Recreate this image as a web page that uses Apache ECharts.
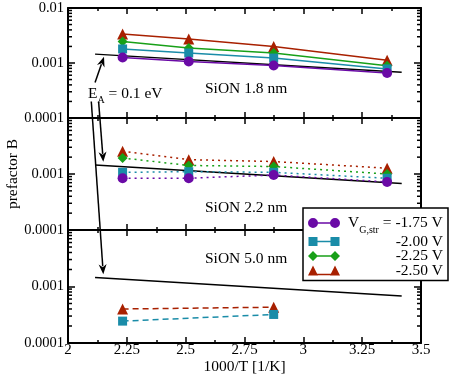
<!DOCTYPE html>
<html>
<head>
<meta charset="utf-8">
<script src="https://cdn.jsdelivr.net/npm/echarts@6/dist/echarts.min.js"></script>
<style>
  html, body { margin: 0; background: #fff; }
  #chart { width: 450px; height: 376px; }
</style>
</head>
<body>
<div id="chart"></div>
<script>
// 1000/T of the stress temperatures
const invT = [2.232, 2.513, 2.874, 3.356];
const invT50 = [2.232, 2.874];

// SiON 1.8 nm
const b18_175 = [0.00126, 0.00107, 0.00090, 0.00066];
const b18_200 = [0.00180, 0.00152, 0.00123, 0.00078];
const b18_225 = [0.00247, 0.00187, 0.00152, 0.00089];
const b18_250 = [0.00336, 0.00273, 0.00200, 0.00112];
// SiON 2.2 nm
const b22_175 = [0.00084, 0.00084, 0.00096, 0.00072];
const b22_200 = [0.00107, 0.00110, 0.00107, 0.00084];
const b22_225 = [0.00193, 0.00142, 0.00136, 0.00100];
const b22_250 = [0.00255, 0.00180, 0.00167, 0.00127];
// SiON 5.0 nm
const b50_200 = [0.000244, 0.00032];
const b50_250 = [0.00040, 0.00043];

// E_A = 0.1 eV reference line (same in every panel)
const eaX = [2.115, 3.418];
const eaY = [0.00145, 0.00068];

const voltages = ['-1.75', '-2.00', '-2.25', '-2.50'];
const colors = ['#6a0aa6', '#1a8ca8', '#18a018', '#a82000'];
const symbols = ['circle', 'rect', 'diamond', 'triangle'];
const symSizes = [10, 9, 10, 11];

const xTicks = ['2', '2.25', '2.5', '2.75', '3', '3.25', '3.5'];
const yTickLabels = ['0.0001', '0.001', '0.01'];
const minorSteps = [2, 3, 4, 5, 6, 7, 8, 9];
const panelNames = ['SiON 1.8 nm', 'SiON 2.2 nm', 'SiON 5.0 nm'];

// arrows: [x, y, gridIndex]
const arrowStart = [[2.115, 0.00044, 0], [2.130, 0.0002, 0], [2.099, 0.0002, 0]];
const arrowTip = [[2.153, 0.0013, 0], [2.150, 0.00165, 1], [2.150, 0.00165, 2]];

const FONT = '"Liberation Serif", "DejaVu Serif", serif';
const grids = [
  { left: 68, top: 8, width: 353, height: 110 },
  { left: 68, top: 118, width: 353, height: 112 },
  { left: 68, top: 230, width: 353, height: 113 }
];

// width of the first legend label, so the others can be right aligned to it
const ctx = document.createElement('canvas').getContext('2d');
function textW(t, size) { ctx.font = size + 'px ' + FONT; return ctx.measureText(t).width; }
const legendPad = 3;
const legendW = Math.ceil(textW('V', 15.5) + textW('G,str', 10) + textW(' = -1.75 V', 15.5)) + legendPad;

const chart = echarts.init(document.getElementById('chart'));

let xAxes = [], yAxes = [], series = [];
grids.forEach((g, i) => {
  ['bottom', 'top'].forEach(pos => {
    xAxes.push({
      gridIndex: i, type: 'value', position: pos, min: 2, max: 3.5, interval: 0.25,
      axisLine: { onZero: false, lineStyle: { color: '#000', width: 2 } },
      axisTick: { inside: true, length: 6, lineStyle: { color: '#000', width: 1.5 } },
      minorTick: { show: true, splitNumber: 2, length: 3, lineStyle: { color: '#000', width: 1.5 } },
      splitLine: { show: false },
      axisLabel: {
        show: i === 2 && pos === 'bottom', margin: 0,
        fontFamily: FONT, fontSize: 15, color: '#000',
        formatter: v => xTicks[Math.round((v - 2) / 0.25)]
      },
      name: (i === 2 && pos === 'bottom') ? '1000/T [1/K]' : '',
      nameLocation: 'middle', nameGap: 16,
      nameTextStyle: { fontFamily: FONT, fontSize: 15.5, color: '#000' }
    });
  });
  ['left', 'right'].forEach(pos => {
    yAxes.push({
      gridIndex: i, type: 'log', logBase: 10, position: pos, min: 0.0001, max: 0.01,
      axisLine: { onZero: false, lineStyle: { color: '#000', width: 2 } },
      axisTick: { inside: true, length: 7, lineStyle: { color: '#000', width: 1.5 } },
      splitLine: { show: false },
      axisLabel: {
        show: pos === 'left', margin: 4,
        fontFamily: FONT, fontSize: 14.5, color: '#000',
        formatter: v => {
          const k = Math.round(Math.log10(v)) + 4;
          return (i > 0 && k === 2) ? '' : yTickLabels[k];
        }
      },
      name: (i === 1 && pos === 'left') ? 'prefactor B' : '',
      nameLocation: 'middle', nameGap: 47, nameRotate: 90, nameMoveOverlap: false,
      nameTextStyle: { fontFamily: FONT, fontSize: 15.5, color: '#000' }
    });
  });
});

// log minor ticks drawn through the axis scale
const minorVals = [];
[0.0001, 0.001].forEach(d => minorSteps.forEach(m => minorVals.push([2, m * d])));
grids.forEach((g, i) => {
  series.push({
    type: 'custom', xAxisIndex: i * 2, yAxisIndex: i * 2, silent: true,
    data: minorVals,
    renderItem: (params, api) => {
      const p0 = api.coord([2, api.value(1)]);
      const p1 = api.coord([3.5, api.value(1)]);
      return {
        type: 'group', children: [
          { type: 'line', shape: { x1: p0[0], y1: p0[1], x2: p0[0] + 4, y2: p0[1] }, style: { stroke: '#000', lineWidth: 1.5 } },
          { type: 'line', shape: { x1: p1[0] - 4, y1: p1[1], x2: p1[0], y2: p1[1] }, style: { stroke: '#000', lineWidth: 1.5 } }
        ]
      };
    }
  });
  series.push({
    type: 'line', xAxisIndex: i * 2, yAxisIndex: i * 2, silent: true,
    data: eaX.map((x, k) => [x, eaY[k]]), showSymbol: false, symbol: 'none',
    lineStyle: { color: '#000', width: 1.5 }, z: 1
  });
});

function addSeries(grid, xs, ys, vi, lineType) {
  series.push({
    name: voltages[vi], type: 'line', xAxisIndex: grid * 2, yAxisIndex: grid * 2,
    data: xs.map((x, k) => [x, ys[k]]),
    symbol: symbols[vi], symbolSize: symSizes[vi],
    itemStyle: { color: colors[vi] },
    lineStyle: { color: colors[vi], width: 1.5, type: lineType },
    z: 3 + (3 - vi)
  });
}
[b18_175, b18_200, b18_225, b18_250].forEach((ys, vi) => addSeries(0, invT, ys, vi, 'solid'));
[b22_175, b22_200, b22_225, b22_250].forEach((ys, vi) => addSeries(1, invT, ys, vi, [2, 4]));
addSeries(2, invT50, b50_200, 1, [6, 4]);
addSeries(2, invT50, b50_250, 3, [6, 4]);

const icons = [
  'path://M0,5 A5,5 0 1,1 10,5 A5,5 0 1,1 0,5 Z M9,4.3 L23,4.3 L23,5.7 L9,5.7 Z M22,5 A5,5 0 1,1 32,5 A5,5 0 1,1 22,5 Z',
  'path://M0.5,0.5 L9.5,0.5 L9.5,9.5 L0.5,9.5 Z M9,4.3 L23,4.3 L23,5.7 L9,5.7 Z M22.5,0.5 L31.5,0.5 L31.5,9.5 L22.5,9.5 Z M0,0 L0,0 Z M32,10 L32,10 Z',
  'path://M0,5 L5,0 L10,5 L5,10 Z M9,4.3 L23,4.3 L23,5.7 L9,5.7 Z M22,5 L27,0 L32,5 L27,10 Z',
  'path://M0,10 L5,0 L10,10 Z M8,8.3 L24,8.3 L24,9.7 L8,9.7 Z M22,10 L27,0 L32,10 Z'
];

chart.setOption({
  animation: false,
  backgroundColor: '#fff',
  grid: grids.map(g => Object.assign({ outerBoundsMode: 'none', containLabel: false }, g)),
  xAxis: xAxes,
  yAxis: yAxes,
  legend: {
    orient: 'vertical', left: 303, top: 208,
    backgroundColor: '#fff', borderColor: '#000', borderWidth: 1.5,
    padding: [3, 5, 2, 5], itemGap: -1.5, itemWidth: 32, itemHeight: 10,
    selectedMode: false, z: 10,
    data: voltages.map((v, k) => ({ name: v, icon: icons[k] })),
    formatter: n => n === '-1.75' ? '{v0|V}{s|G,str}{v| = -1.75 V}' : '{r|' + n + ' V}',
    textStyle: {
      fontFamily: FONT, fontSize: 15.5, color: '#000',
      rich: {
        v0: { fontFamily: FONT, fontSize: 15.5, color: '#000', lineHeight: 14, padding: [0, 0, 0, legendPad] },
        v: { fontFamily: FONT, fontSize: 15.5, color: '#000', lineHeight: 14 },
        s: { fontFamily: FONT, fontSize: 10, color: '#000', lineHeight: 12, padding: [14, 0, 0, 0] },
        r: { fontFamily: FONT, fontSize: 15.5, color: '#000', lineHeight: 14, width: legendW, align: 'right' }
      }
    }
  },
  series: series
});

// annotations: panel labels, E_A text and arrows
const graphic = [];
const labelY = [90, 209, 260];
panelNames.forEach((t, i) => graphic.push({
  type: 'text', left: 205, top: labelY[i] - 9, z: 20,
  style: { text: t, font: '15.5px ' + FONT, fill: '#000' }
}));
graphic.push({
  type: 'text', left: 88, top: 86, z: 20,
  style: {
    text: '{v|E}{s|A}{v| = 0.1 eV}',
    rich: {
      v: { font: '15.5px ' + FONT, fill: '#000' },
      s: { font: '10px ' + FONT, fill: '#000', padding: [12, 0, 0, 0] }
    }
  }
});
arrowStart.forEach((s, k) => {
  const p0 = chart.convertToPixel({ gridIndex: s[2] }, [s[0], s[1]]);
  const t = arrowTip[k];
  const p1 = chart.convertToPixel({ gridIndex: t[2] }, [t[0], t[1]]);
  const dx = p1[0] - p0[0], dy = p1[1] - p0[1];
  const len = Math.hypot(dx, dy), ux = dx / len, uy = dy / len;
  const hl = 10, hw = 4;
  const bx = p1[0] - ux * hl, by = p1[1] - uy * hl;
  graphic.push({
    type: 'line', z: 20, silent: true,
    shape: { x1: p0[0], y1: p0[1], x2: bx + ux * 2, y2: by + uy * 2 },
    style: { stroke: '#000', lineWidth: 1.5 }
  });
  graphic.push({
    type: 'polygon', z: 20, silent: true,
    shape: { points: [[p1[0], p1[1]], [bx - uy * hw, by + ux * hw], [bx + ux * 3, by + uy * 3], [bx + uy * hw, by - ux * hw]] },
    style: { fill: '#000' }
  });
});
chart.setOption({ graphic: graphic });
</script>
</body>
</html>
